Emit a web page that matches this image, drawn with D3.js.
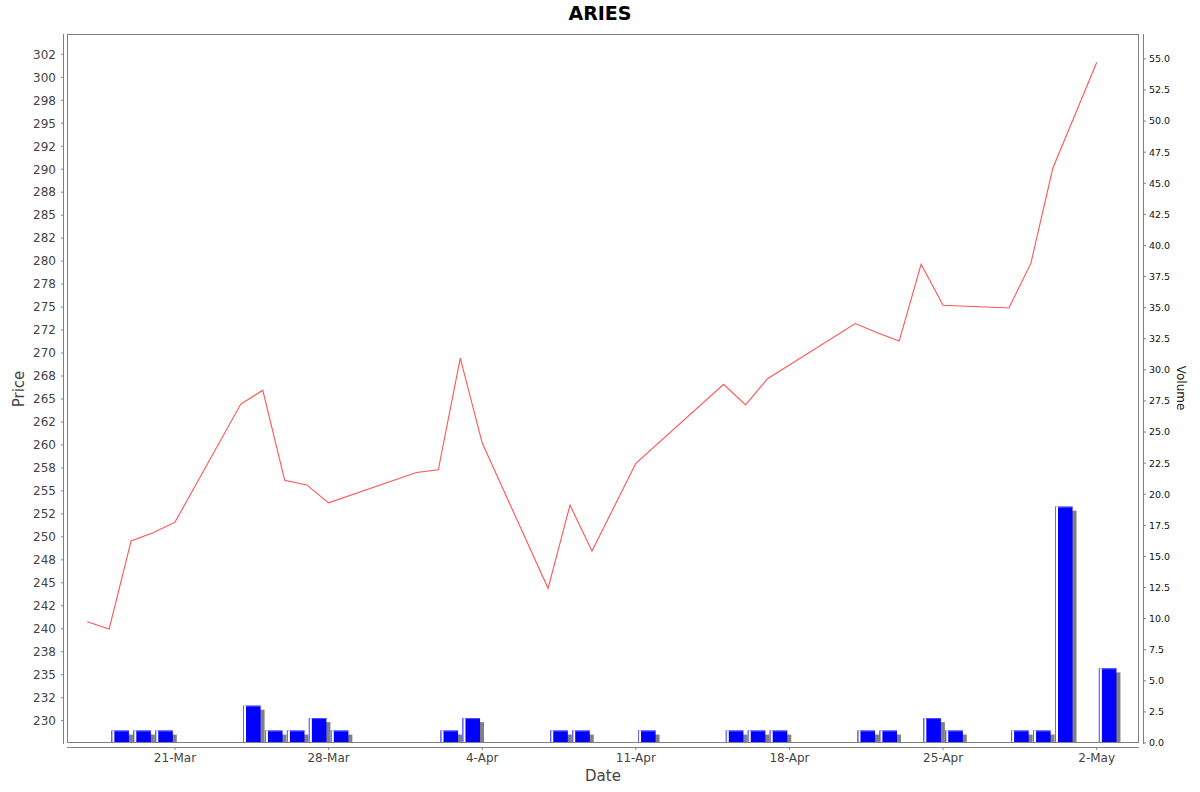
<!DOCTYPE html>
<html>
<head>
<meta charset="utf-8">
<script src="https://cdn.jsdelivr.net/npm/d3@7/dist/d3.min.js"></script>
<style>
  html, body { margin: 0; padding: 0; background: #fff; }
  svg { display: block; font-family: "DejaVu Sans", sans-serif; }
</style>
</head>
<body>
<svg id="chart" width="1200" height="792"></svg>
<script>
// ---- data ----
const dates = ["2025-03-17","2025-03-18","2025-03-19","2025-03-20","2025-03-21",
  "2025-03-24","2025-03-25","2025-03-26","2025-03-27","2025-03-28",
  "2025-04-01","2025-04-02","2025-04-03","2025-04-04",
  "2025-04-07","2025-04-08","2025-04-09","2025-04-11",
  "2025-04-15","2025-04-16","2025-04-17",
  "2025-04-21","2025-04-22","2025-04-23","2025-04-24","2025-04-25",
  "2025-04-28","2025-04-29","2025-04-30","2025-05-02"];
const prices = [240.77, 239.98, 249.55, 250.45, 251.6,
  264.45, 265.95, 256.15, 255.65, 253.7,
  257.0, 257.3, 269.45, 260.2,
  244.4, 253.45, 248.45, 258.0,
  266.6, 264.35, 267.2,
  273.2, 272.2, 271.3, 279.65, 275.2,
  274.9, 279.75, 290.1, 301.6];
const volumes = [0, 1, 1, 1, 0,
  3, 1, 1, 2, 1,
  0, 1, 2, 0,
  1, 1, 0, 1,
  1, 1, 1,
  1, 1, 0, 2, 1,
  1, 1, 19, 6];
const priceTicks = [230,232.5,235,237.5,240,242.5,245,247.5,250,252.5,255,257.5,260,262.5,265,267.5,270,272.5,275,277.5,280,282.5,285,287.5,290,292.5,295,297.5,300,302.5];
const priceTickLabels = ["230","232","235","238","240","242","245","248","250","252","255","258","260","262","265","268","270","272","275","278","280","282","285","288","290","292","295","298","300","302"];
const volumeTicks = [0,2.5,5,7.5,10,12.5,15,17.5,20,22.5,25,27.5,30,32.5,35,37.5,40,42.5,45,47.5,50,52.5,55];
const dateTicks = ["2025-03-21","2025-03-28","2025-04-04","2025-04-11","2025-04-18","2025-04-25","2025-05-02"];
const dateTickLabels = ["21-Mar","28-Mar","4-Apr","11-Apr","18-Apr","25-Apr","2-May"];
const titleText = "ARIES";

// ---- layout ----
const L = 67, R = 1139, T = 34, B = 743;
const DAY = 86400000;
const parse = s => { const [y,m,d] = s.split("-").map(Number); return new Date(Date.UTC(y, m-1, d)); };
const pts = dates.map((d,i) => ({ date: parse(d), price: prices[i], vol: volumes[i] }));

const x = d3.scaleUtc()
  .domain([new Date(parse("2025-03-21").getTime() - 4.921*DAY), new Date(parse("2025-05-02").getTime() + 1.928*DAY)])
  .range([L, R]);
const yP = d3.scaleLinear().domain([227.57, 304.71]).range([B, T]);
const yV = d3.scaleLinear().domain([0, 57]).range([B, T]);

const svg = d3.select("#chart");
svg.append("rect").attr("width",1200).attr("height",792).attr("fill","#fff");

svg.append("defs").append("clipPath").attr("id","plotclip")
  .append("rect").attr("x",L).attr("y",T).attr("width",R-L).attr("height",B-T);

// title
svg.append("text").attr("x",600).attr("y",20).attr("text-anchor","middle")
  .attr("font-size",19).attr("font-weight","bold").attr("fill","#000").text(titleText);

const plot = svg.append("g").attr("clip-path","url(#plotclip)");

// volume bars
const dayW = x(new Date(parse("2025-03-22").getTime())) - x(parse("2025-03-21"));
const m = dayW * 0.1;
const barData = pts.filter(p => p.vol > 0);
const bars = plot.append("g");
barData.forEach(p => {
  const x0 = x(p.date) + m, x1 = x(new Date(p.date.getTime() + DAY)) - m;
  const yt = yV(p.vol), yb = yV(0);
  // shadow
  bars.append("rect").attr("x", x0+4).attr("y", yt+4).attr("width", x1-x0)
    .attr("height", Math.max(0, yb-(yt+4))).attr("fill","#808080");
  // bar
  bars.append("rect").attr("x", x0).attr("y", yt).attr("width", x1-x0)
    .attr("height", yb-yt).attr("fill","#0000ff");
  // highlight stripes
  bars.append("rect").attr("x", x0).attr("y", yt).attr("width", 1)
    .attr("height", yb-yt).attr("fill","#6a6aff");
  bars.append("rect").attr("x", x0+1).attr("y", yt).attr("width", 2)
    .attr("height", yb-yt).attr("fill","#ffffff");
  bars.append("rect").attr("x", x0+3).attr("y", yt).attr("width", x1-x0-3)
    .attr("height", 1).attr("fill","#5555ff");
});

// price line
const line = d3.line().x(d => x(d.date)).y(d => yP(d.price));
plot.append("path").datum(pts).attr("d", line)
  .attr("fill","none").attr("stroke","#ff5555").attr("stroke-width",1.1);

// plot outline
svg.append("rect").attr("x",L+0.5).attr("y",T+0.5).attr("width",R-L-1).attr("height",B-T-1)
  .attr("fill","none").attr("stroke","#808080").attr("stroke-width",1);

// left axis (price)
const leftAxis = svg.append("g");
leftAxis.append("line").attr("x1",63.5).attr("x2",63.5).attr("y1",T).attr("y2",B+1)
  .attr("stroke","#808080");
priceTicks.forEach((t,i) => {
  const yy = yP(t);
  leftAxis.append("line").attr("x1",61).attr("x2",63.5).attr("y1",yy).attr("y2",yy).attr("stroke","#808080");
  leftAxis.append("text").attr("x",56).attr("y",yy).attr("dy","0.36em").attr("text-anchor","end")
    .attr("font-size",12).attr("fill","#444").text(priceTickLabels[i]);
});
svg.append("text").attr("transform","translate(24,389) rotate(-90)").attr("text-anchor","middle")
  .attr("font-size",15).attr("fill","#444").text("Price");

// right axis (volume)
const rightAxis = svg.append("g");
rightAxis.append("line").attr("x1",1143.5).attr("x2",1143.5).attr("y1",T).attr("y2",B+1)
  .attr("stroke","#808080");
volumeTicks.forEach(t => {
  const yy = yV(t);
  rightAxis.append("line").attr("x1",1143.5).attr("x2",1146).attr("y1",yy).attr("y2",yy).attr("stroke","#808080");
  rightAxis.append("text").attr("x",1149).attr("y",yy).attr("dy","0.36em").attr("text-anchor","start")
    .attr("font-size",9.5).attr("fill","#111").text(d3.format(".1f")(t));
});
svg.append("text").attr("transform","translate(1177,388) rotate(90)").attr("text-anchor","middle")
  .attr("font-size",12).attr("fill","#222").text("Volume");

// bottom axis (date)
const bottomAxis = svg.append("g");
bottomAxis.append("line").attr("x1",L).attr("x2",R).attr("y1",747.5).attr("y2",747.5).attr("stroke","#808080");
dateTicks.forEach((d,i) => {
  const xx = x(parse(d));
  bottomAxis.append("line").attr("x1",xx).attr("x2",xx).attr("y1",747.5).attr("y2",750).attr("stroke","#808080");
  bottomAxis.append("text").attr("x",xx).attr("y",762).attr("text-anchor","middle")
    .attr("font-size",12).attr("fill","#444").text(dateTickLabels[i]);
});
svg.append("text").attr("x",(L+R)/2).attr("y",781).attr("text-anchor","middle")
  .attr("font-size",15).attr("fill","#444").text("Date");
</script>
</body>
</html>
